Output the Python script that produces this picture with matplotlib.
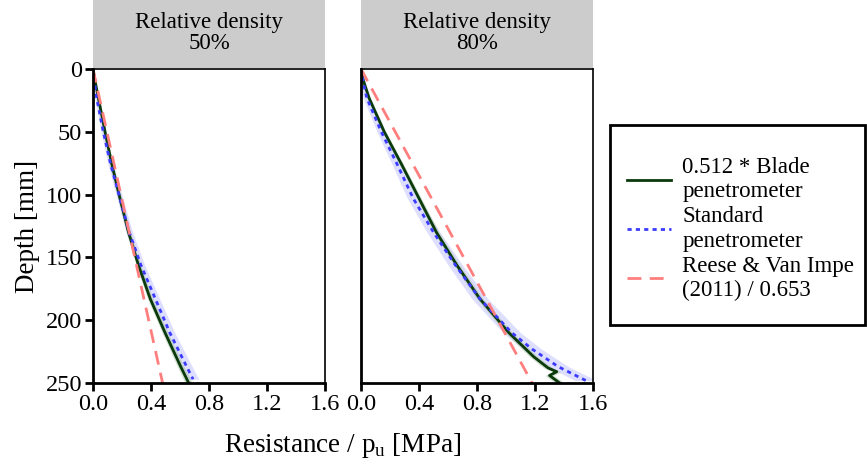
import numpy as np
import matplotlib
matplotlib.use("Agg")
import matplotlib.pyplot as plt
from matplotlib.patches import Rectangle

plt.rcParams["font.family"] = ["Liberation Serif", "DejaVu Serif"]
plt.rcParams["mathtext.fontset"] = "custom"
plt.rcParams["mathtext.rm"] = "Liberation Serif"

# Relative density 50 %
d50_blade = [0, 10, 23, 50, 76, 103, 130, 156, 183, 210, 237, 250]
x50_blade = [0, 0.015, 0.037, 0.083, 0.13, 0.186, 0.245, 0.313, 0.395, 0.497, 0.605, 0.66]
w50_blade = [0, 0.004, 0.006, 0.008, 0.01, 0.012, 0.014, 0.016, 0.018, 0.02, 0.023, 0.025]
d50_std = [0, 10, 23, 50, 76, 103, 130, 156, 183, 210, 237, 247]
x50_std = [0, 0.01, 0.025, 0.071, 0.122, 0.186, 0.25, 0.33, 0.43, 0.53, 0.646, 0.69]
w50_std = [0, 0.008, 0.012, 0.015, 0.018, 0.02, 0.023, 0.026, 0.03, 0.034, 0.038, 0.04]
d50_reese = [0, 250]
x50_reese = [0, 0.48]

# Relative density 80 %
d80_blade = [0, 9, 23, 50, 76, 103, 130, 156, 183, 210, 229, 238, 241, 244, 250]
x80_blade = [0, 0.016, 0.055, 0.16, 0.28, 0.40, 0.52, 0.66, 0.82, 1.02, 1.19, 1.29, 1.35, 1.30, 1.37]
w80_blade = [0, 0.006, 0.01, 0.012, 0.014, 0.016, 0.018, 0.02, 0.022, 0.025, 0.028, 0.03, 0.03, 0.03, 0.032]
d80_std = [0, 9, 23, 50, 76, 103, 130, 156, 183, 210, 223, 237, 248]
x80_std = [0, 0.012, 0.04, 0.14, 0.25, 0.36, 0.50, 0.65, 0.82, 1.04, 1.18, 1.36, 1.55]
w80_std = [0, 0.015, 0.025, 0.03, 0.035, 0.04, 0.045, 0.05, 0.055, 0.06, 0.065, 0.07, 0.075]
d80_reese = [0, 250]
x80_reese = [0, 1.18]

panels = [
    ("Relative density\n50%", d50_blade, x50_blade, w50_blade, d50_std, x50_std, w50_std, d50_reese, x50_reese),
    ("Relative density\n80%", d80_blade, x80_blade, w80_blade, d80_std, x80_std, w80_std, d80_reese, x80_reese),
]

c_blade = "#0a3a0a"
c_std = "#3b3bff"
c_reese = "#ff7f7f"

fig = plt.figure(figsize=(8.67, 4.68), dpi=100)
W, H = 867, 468
lefts = [93, 361]
axw = 232
top, bottom = 69, 383

for i, (title, db, xb, wb, ds, xs, ws, dr, xr) in enumerate(panels):
    ax = fig.add_axes([lefts[i] / W, (H - bottom) / H, axw / W, (bottom - top) / H])
    db, xb, wb = np.array(db), np.array(xb), np.array(wb)
    ds, xs, ws = np.array(ds), np.array(xs), np.array(ws)
    ax.fill_betweenx(ds, xs - ws, xs + ws, color="#c8c8ff", alpha=0.6, lw=0)
    ax.fill_betweenx(db, xb - wb, xb + wb, color="#b0c8b0", alpha=0.6, lw=0)
    ax.plot(xb, db, color=c_blade, lw=2, label="0.512 * Blade\npenetrometer")
    ax.plot(xs, ds, color=c_std, lw=2, ls=(0, (1.5, 1.5)), label="Standard\npenetrometer")
    ax.plot(xr, dr, color=c_reese, lw=2, ls=(0, (5, 3)), label="Reese & Van Impe\n(2011) / 0.653")
    ax.set_xlim(0, 1.6)
    ax.set_ylim(250, 0)
    ax.set_xticks([0, 0.4, 0.8, 1.2, 1.6])
    ax.set_xticklabels(["0.0", "0.4", "0.8", "1.2", "1.6"])
    for s in ["top", "right"]:
        ax.spines[s].set_linewidth(1.2)
    for s in ["left", "bottom"]:
        ax.spines[s].set_linewidth(2)
    ax.tick_params(width=2, length=6, labelsize=17.5, pad=2)
    if i == 0:
        ax.set_yticks([0, 50, 100, 150, 200, 250])
        ax.set_ylabel("Depth [mm]", fontsize=19.5, labelpad=4)
    else:
        ax.set_yticks([])
        handles, labels = ax.get_legend_handles_labels()
    # strip
    sax = fig.add_axes([lefts[i] / W, (H - 68) / H, axw / W, 68 / H])
    sax.set_facecolor("#cccccc")
    sax.set_xticks([])
    sax.set_yticks([])
    for s in sax.spines.values():
        s.set_visible(False)
    sax.text(0.5, 0.52, title, ha="center", va="center", fontsize=16.5,
             linespacing=1.0, transform=sax.transAxes)

fig.text((93 + 593) / 2 / W, 8 / H, "Resistance / p$_\\mathregular{u}$ [MPa]",
         ha="center", va="bottom", fontsize=19.5)

leg = fig.legend(handles, labels, loc="center left",
                 bbox_to_anchor=(610 / W, 1 - 229 / H), borderaxespad=0,
                 fontsize=16.5, frameon=False, handlelength=1.9,
                 labelspacing=0.18, borderpad=0.75, handletextpad=0.5)
for t in leg.get_texts():
    t.set_linespacing(1.2)

# legend box
fig.patches.append(Rectangle((610 / W, 1 - 325 / H), 255 / W, 200 / H,
                             transform=fig.transFigure, fill=False,
                             edgecolor="black", lw=2))

fig.savefig("out.png", dpi=100)
